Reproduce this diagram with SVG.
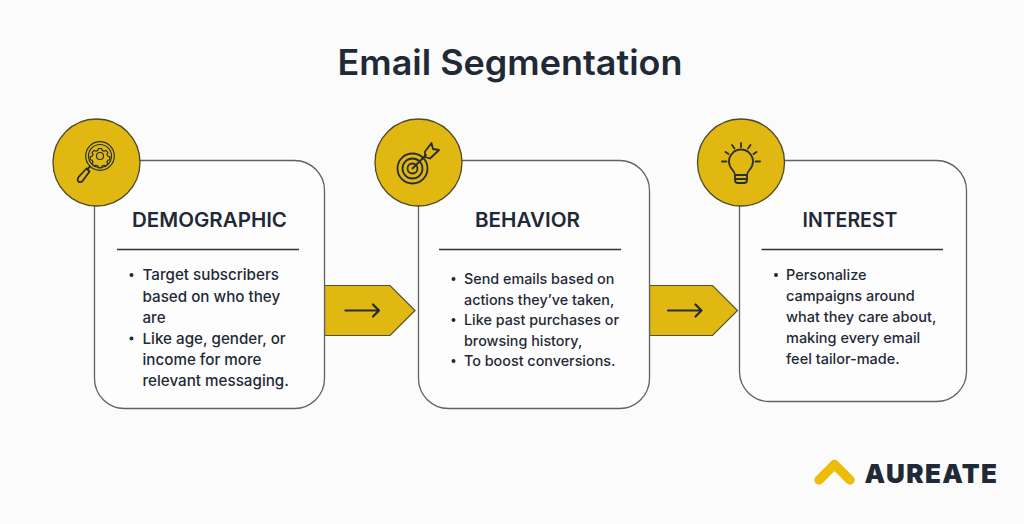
<svg xmlns="http://www.w3.org/2000/svg" width="1024" height="524" viewBox="0 0 1024 524">
<style>
text{font-family:"Inter","Noto Sans","Liberation Sans",sans-serif;fill:#1f2a36}
.title{font-size:35px;font-weight:600;text-anchor:middle}
.head{font-size:20px;font-weight:600;text-anchor:middle}
.body{font-size:14.500px;font-weight:500}
.wide{font-size:15.200px}
.mid{font-size:14.350px}
.card{fill:#fdfdfd;stroke:#5e6266;stroke-width:1.3}
.disc{fill:#e0b811;stroke:#4d4a2a;stroke-width:1.3}
.rule{stroke:#2a3340;stroke-width:1.4}
.arrow{fill:#e0b811;stroke:#55512c;stroke-width:1.2}
.ic{fill:none;stroke:#252e33;stroke-width:1.8;stroke-linecap:round;stroke-linejoin:round}
.thin{stroke-width:1.2}
.ar{fill:none;stroke:#252e33;stroke-width:2.200;stroke-linecap:round;stroke-linejoin:round}
</style>
<rect width="1024" height="524" fill="#fbfbfb"/>
<text class="title" x="510" y="74.500" textLength="345" lengthAdjust="spacingAndGlyphs">Email Segmentation</text>
<g id="connectors">
<g id="connector-1"><path class="arrow" d="M324.500 285.500H390L415 310.500L390 335.500H324.500Z"/><path class="ar" d="M345.500 310.500H378.500M373 304.500L379 310.500L373 316.500"/></g>
<g id="connector-2"><path class="arrow" d="M649.500 285.500H712.500L737.500 310.500L712.500 335.500H649.500Z"/><path class="ar" d="M668 310.500H701M695.500 304.500L701.500 310.500L695.500 316.500"/></g>
</g>
<g id="node-demographic">
<rect class="card" x="94.500" y="160.500" width="230" height="248" rx="30"/>
<circle class="disc" cx="96.500" cy="162.500" r="43.500"/>
<g class="ic"><circle class="thin" cx="100" cy="156" r="14.300"/><circle class="thin" cx="100" cy="156" r="11.500"/>
<circle class="thin" cx="100" cy="156" r="3.500"/>
<path class="thin" d="M98.500 148.500h3l.6 1.900 1.900.8 1.800-.9 2.100 2.100-.9 1.800.8 1.900 1.900.6v3l-1.900.6-.8 1.900.9 1.800-2.100 2.100-1.800-.9-1.900.8-.6 1.900h-3l-.6-1.900-1.900-.8-1.800.9-2.100-2.100.9-1.800-.8-1.900-1.900-.6v-3l1.900-.6.8-1.900-.9-1.800 2.100-2.100 1.800.9 1.900-.8Z"/>
<path d="M90 166.500L88 168.500"/><path d="M86.500 168.500L89.500 171.500L82.500 181Q80.500 183 78.500 181.500T79 176.500Z"/></g>
<text class="head" x="209.500" y="226.500" textLength="155" lengthAdjust="spacingAndGlyphs">DEMOGRAPHIC</text>
<line class="rule" x1="117" y1="249.500" x2="299" y2="249.500"/>
<circle cx="131.500" cy="275" r="2" fill="#1f2a36"/>
<circle cx="131.500" cy="338.500" r="2" fill="#1f2a36"/>
<text class="body wide" x="142.500" y="280">Target subscribers</text>
<text class="body wide" x="142.500" y="301.500">based on who they</text>
<text class="body wide" x="142.500" y="322.500">are</text>
<text class="body wide" x="142.500" y="343.500">Like age, gender, or</text>
<text class="body wide" x="142.500" y="364.500">income for more</text>
<text class="body wide" x="142.500" y="385.500">relevant messaging.</text>
</g>
<g id="node-behavior">
<rect class="card" x="418.500" y="160.500" width="231" height="248" rx="30"/>
<circle class="disc" cx="418.500" cy="162.500" r="43.500"/>
<g class="ic"><circle cx="412.500" cy="168.500" r="15"/><circle cx="412.500" cy="168.500" r="10"/><circle cx="412.500" cy="168.500" r="5"/><path d="M412.500 168.500L426 155"/><path d="M425 157V151.500L431.500 143L433 149L439 150L430 158.500Z"/></g>
<text class="head" x="527.500" y="226.500" textLength="105" lengthAdjust="spacingAndGlyphs">BEHAVIOR</text>
<line class="rule" x1="439" y1="249.500" x2="621" y2="249.500"/>
<circle cx="453.500" cy="279" r="2" fill="#1f2a36"/>
<circle cx="453.500" cy="320" r="2" fill="#1f2a36"/>
<circle cx="453.500" cy="361" r="2" fill="#1f2a36"/>
<text class="body mid" x="464" y="284">Send emails based on</text>
<text class="body mid" x="464" y="304.500">actions they’ve taken,</text>
<text class="body mid" x="464" y="325">Like past purchases or</text>
<text class="body mid" x="464" y="345.500">browsing history,</text>
<text class="body mid" x="464" y="366">To boost conversions.</text>
</g>
<g id="node-interest">
<rect class="card" x="739.500" y="160.500" width="227" height="241" rx="30"/>
<circle class="disc" cx="741" cy="162.500" r="43.500"/>
<g class="ic"><path d="M735 175C735 170 729 169.500 729 161.500A12 12 0 1 1 753 161.500C753 169.500 747 170 747 175V180Q747 183 744 183H738Q735 183 735 180Z"/><path d="M735 175H747M735 179H747"/><path d="M722 161.500H726.500M755.500 161.500H760M725.500 152L728.500 154M756.500 152L753.500 154M732 145L734.500 148.500M750.500 145L748 148.500M741 143V147"/></g>
<text class="head" x="850" y="226.500" textLength="95" lengthAdjust="spacingAndGlyphs">INTEREST</text>
<line class="rule" x1="761.500" y1="249.500" x2="943" y2="249.500"/>
<circle cx="776" cy="275" r="2" fill="#1f2a36"/>
<text class="body" x="786" y="280">Personalize</text>
<text class="body" x="786" y="301">campaigns around</text>
<text class="body" x="786" y="322">what they care about,</text>
<text class="body" x="786" y="343">making every email</text>
<text class="body" x="786" y="364">feel tailor-made.</text>
</g>
<g id="logo">
<path d="M819 480L834.500 464.500L850 480" fill="none" stroke="#ecbc07" stroke-width="9.500" stroke-linecap="round" stroke-linejoin="round"/>
<text x="864.500" y="482.500" font-size="26" font-weight="900" textLength="132.500" lengthAdjust="spacing">AUREATE</text>
</g>
</svg>
